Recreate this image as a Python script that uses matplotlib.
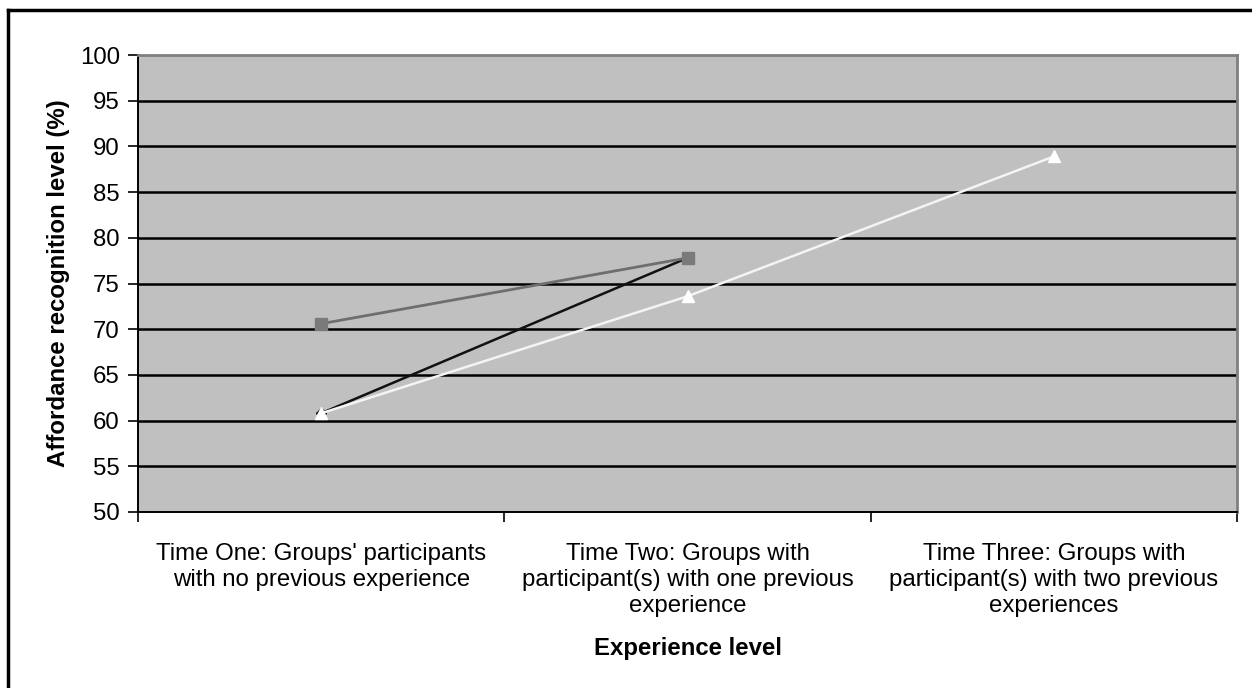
import matplotlib
matplotlib.use("Agg")
import matplotlib.pyplot as plt
from matplotlib.lines import Line2D

categories = ["Time One: Groups' participants\nwith no previous experience",
              "Time Two: Groups with\nparticipant(s) with one previous\nexperience",
              "Time Three: Groups with\nparticipant(s) with two previous\nexperiences"]
series_gray = [70.6, 77.8]
series_black = [60.8, 77.8]
series_white = [60.8, 73.6, 88.9]
yticks = list(range(50, 101, 5))

plt.rcParams['font.family'] = ['Liberation Sans', 'DejaVu Sans']
FS = 17.3

fig = plt.figure(figsize=(12.52, 6.88), dpi=100)
ax = fig.add_axes([138/1252, 1-512/688, (1237-138)/1252, (512-55)/688])
ax.set_facecolor('#c0c0c0')

x = list(range(len(categories)))
ax.set_xlim(-0.5, len(categories) - 0.5)
ax.set_ylim(50, 100)
ax.set_yticks(yticks)
ax.set_yticklabels([str(v) for v in yticks], fontsize=FS)
for v in yticks[1:-1]:
    ax.axhline(v, color='black', lw=1.8, zorder=1)

ax.plot(x[:2], series_black, color='#111111', lw=1.8, marker='D', ms=5,
        mfc='#111111', mec='#111111', zorder=3)
ax.plot(x[:2], series_gray, color='#6e6e6e', lw=2.0, marker='s', ms=8,
        mfc='#7a7a7a', mec='#7a7a7a', zorder=4)
ax.plot(x, series_white, color='#f4f4f4', lw=1.8, marker='^', ms=9,
        mfc='white', mec='white', zorder=5)

ax.set_xticks(x)
ax.set_xticklabels(categories, fontsize=FS, linespacing=1.25)
ax.tick_params(axis='x', which='major', length=0, pad=22)
ax.set_xticks([i - 0.5 for i in range(len(categories) + 1)], minor=True)
ax.tick_params(axis='x', which='minor', length=7, width=1.2, direction='out')
ax.tick_params(axis='y', length=7, width=1.2, direction='out', pad=6)

for s in ['left', 'bottom']:
    ax.spines[s].set_color('black')
    ax.spines[s].set_linewidth(1.4)
for s in ['top', 'right']:
    ax.spines[s].set_color('#808080')
    ax.spines[s].set_linewidth(2)

ax.set_ylabel('Affordance recognition level (%)', fontsize=FS, fontweight='bold', labelpad=7)
ax.set_xlabel('Experience level', fontsize=FS, fontweight='bold', labelpad=14)

fig.add_artist(Line2D([8/1252, 8/1252], [0, 1-10/688], transform=fig.transFigure, color='black', lw=2.5))
fig.add_artist(Line2D([8/1252, 1], [1-10/688, 1-10/688], transform=fig.transFigure, color='black', lw=2.5))

fig.savefig('out.png', dpi=100, facecolor='white')
